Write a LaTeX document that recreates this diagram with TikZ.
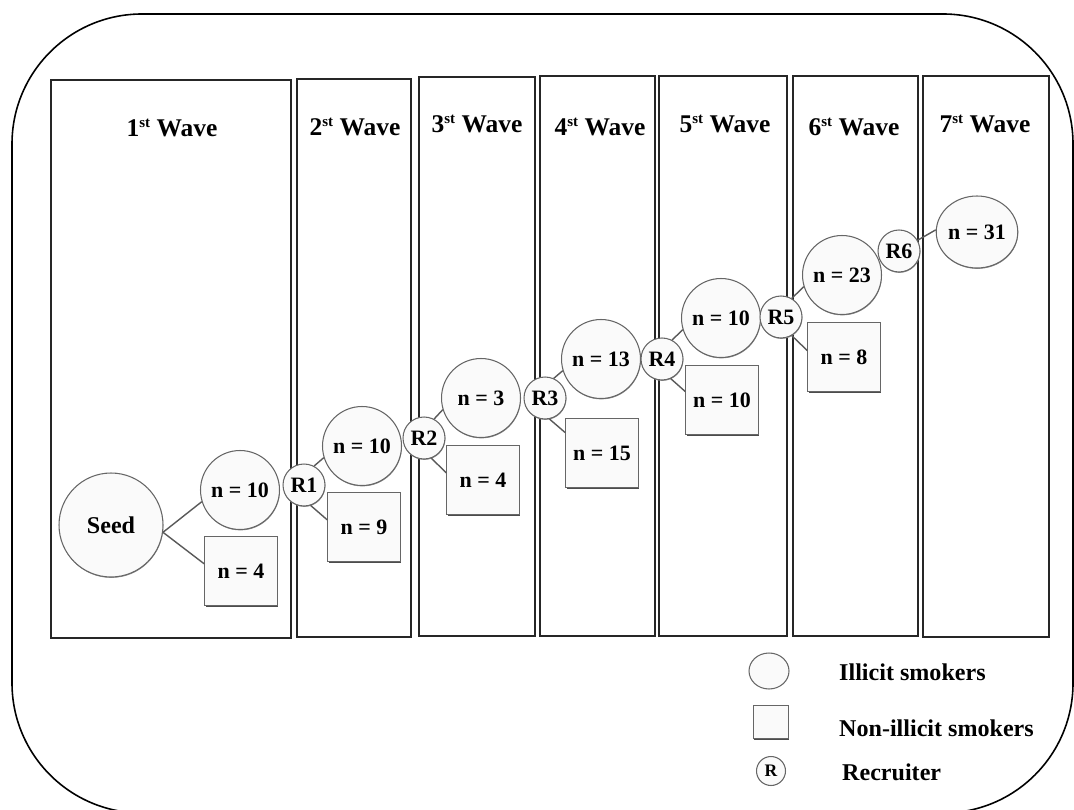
\documentclass[tikz,border=0pt]{standalone}
\usepackage{fontspec}
\setmainfont{Liberation Serif}
\usetikzlibrary{shapes.geometric,shadows}
\newcommand{\wavesup}{\raisebox{0.75ex}{\fontsize{8.5}{9}\selectfont st}}
\tikzset{
  wavebox/.style={draw=black!85, line width=1.1pt},
  wavehead/.style={font=\fontsize{14.5}{16}\selectfont\bfseries},
  nodefill/.style={draw=black!60, fill=black!2, line width=0.6pt, inner sep=0pt},
  illicit/.style={nodefill, circle, minimum size=1.58cm, font=\fontsize{12.5}{14}\selectfont\bfseries,
    drop shadow={shadow xshift=0.2pt, shadow yshift=-0.5pt, fill=black!45, opacity=1}},
  nonillicit/.style={nodefill, rectangle, minimum width=1.45cm, minimum height=1.38cm, font=\fontsize{12.5}{14}\selectfont\bfseries,
    drop shadow={shadow xshift=0.5pt, shadow yshift=-0.8pt, fill=black!70, opacity=1}},
  recruiter/.style={nodefill, circle, minimum size=0.84cm, font=\fontsize{12.5}{14}\selectfont\bfseries,
    drop shadow={shadow xshift=0.2pt, shadow yshift=-0.5pt, fill=black!45, opacity=1}},
  link/.style={draw=black!65, line width=0.8pt},
  legendtext/.style={anchor=west, font=\fontsize{13.7}{15}\selectfont\bfseries}
}
\begin{document}
\begin{tikzpicture}[x=0.02cm, y=-0.02cm]
  \useasboundingbox (0,0) rectangle (1074,810);
  \clip (0,0) rectangle (1074,810);
  % Outer frame
  \draw[line width=0.9pt, rounded corners=2.6cm] (12,14) rectangle (1073,813);
  % Wave columns
  \draw[wavebox] (51,80) rectangle (291,638);
  \draw[wavebox] (297,79) rectangle (411,637);
  \draw[wavebox] (419,77) rectangle (535,636);
  \draw[wavebox] (540,76) rectangle (655,636);
  \draw[wavebox] (659,76) rectangle (787,636);
  \draw[wavebox] (793,76) rectangle (918,636);
  \draw[wavebox] (923,76) rectangle (1049,637);
  % Wave headings
  \node[wavehead] (h1) at (172,128) {1\wavesup\ Wave};
  \node[wavehead] (h2) at (355,127) {2\wavesup\ Wave};
  \node[wavehead] (h3) at (477,124) {3\wavesup\ Wave};
  \node[wavehead] (h4) at (600,127) {4\wavesup\ Wave};
  \node[wavehead] (h5) at (725,124) {5\wavesup\ Wave};
  \node[wavehead] (h6) at (854,127) {6\wavesup\ Wave};
  \node[wavehead] (h7) at (985,124) {7\wavesup\ Wave};
  % Seed and first wave
  \node[illicit, minimum size=2.08cm, font=\fontsize{13.7}{15}\selectfont\bfseries] (seed) at (111,525) {Seed};
  \node[illicit] (c1) at (240,490) {n = 10};
  \node[nonillicit] (b1) at (241,571) {n = 4};
  % Recruiters and the waves they bring in
  \node[recruiter] (r1) at (304,485) {R1};
  \node[illicit] (c2) at (362,446) {n = 10};
  \node[nonillicit] (b2) at (364,527) {n = 9};
  \node[recruiter] (r2) at (424,438) {R2};
  \node[illicit] (c3) at (481,398) {n = 3};
  \node[nonillicit] (b3) at (483,480) {n = 4};
  \node[recruiter] (r3) at (545,398) {R3};
  \node[illicit] (c4) at (601,359) {n = 13};
  \node[nonillicit] (b4) at (602,453) {n = 15};
  \node[recruiter] (r4) at (662,359) {R4};
  \node[illicit] (c5) at (721,318) {n = 10};
  \node[nonillicit] (b5) at (722,400) {n = 10};
  \node[recruiter] (r5) at (781,317) {R5};
  \node[illicit] (c6) at (842,275) {n = 23};
  \node[nonillicit] (b6) at (844,357) {n = 8};
  \node[recruiter] (r6) at (899,251) {R6};
  \node[illicit, ellipse, minimum width=1.6cm, minimum height=1.44cm] (c7) at (977,232) {n = 31};
  % Links
  \draw[link] (seed.-8) -- (c1.197);
  \draw[link] (seed.-8) -- (b1.169);
  \draw[link] (r1.62) -- (c2.197);
  \draw[link] (r1.-72) -- (b2.169);
  \draw[link] (r2.62) -- (c3.197);
  \draw[link] (r2.-70) -- (b3.169);
  \draw[link] (r3.66) -- (c4.197);
  \draw[link] (r3.-78) -- (b4.151);
  \draw[link] (r4.62) -- (c5.197);
  \draw[link] (r4.-66) -- (b5.167);
  \draw[link] (r5.60) -- (c6.197);
  \draw[link] (r5.-60) -- (b6.170);
  \draw[link] (r6.30) -- (c7.177);
  % Legend
  \node[nodefill, ellipse, minimum width=0.8cm, minimum height=0.72cm] (legc) at (769,671) {};
  \node[nodefill, rectangle, minimum width=0.7cm, minimum height=0.66cm,
    drop shadow={shadow xshift=0.3pt, shadow yshift=-0.8pt, fill=black!70, opacity=1}] (legb) at (771,722) {};
  \node[nodefill, circle, minimum size=0.58cm, font=\fontsize{10}{12}\selectfont\bfseries] (legr) at (771,771) {R};
  \node[legendtext] (legct) at (833,672) {Illicit smokers};
  \node[legendtext] (legbt) at (833,728) {Non-illicit smokers};
  \node[legendtext] (legrt) at (836,772) {Recruiter};
\end{tikzpicture}
\end{document}
